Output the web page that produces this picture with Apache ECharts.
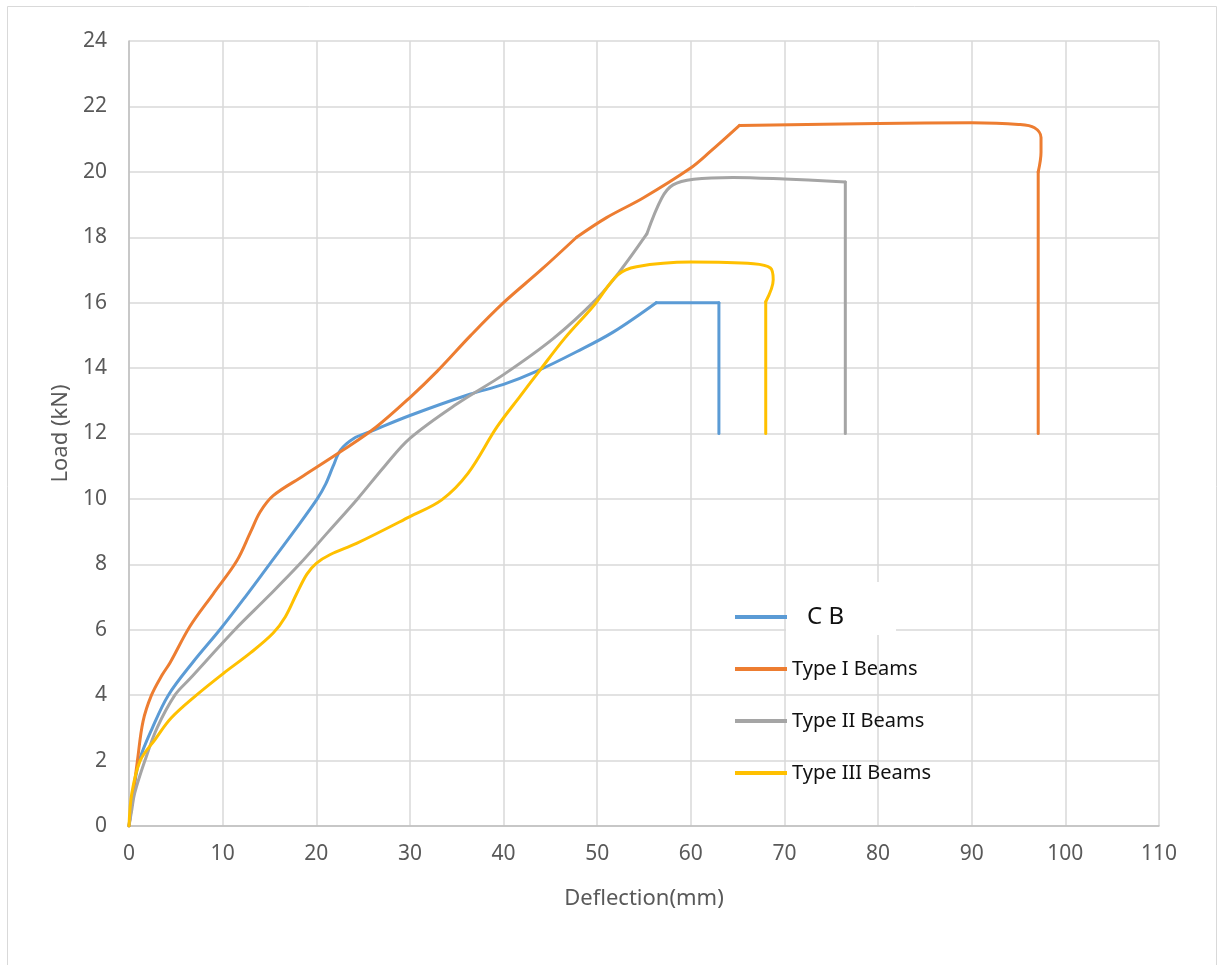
<!DOCTYPE html>
<html>
<head>
<meta charset="utf-8">
<script src="https://cdn.jsdelivr.net/npm/echarts@6/dist/echarts.min.js"></script>
<style>html,body{margin:0;padding:0;background:#fff}#c{width:1219px;height:965px}</style>
</head>
<body>
<div id="c"></div>
<script>
// ---- data (Deflection mm, Load kN) ----
const seriesNames = ['C B', 'Type I Beams', 'Type II Beams', 'Type III Beams'];
const cbData = [[0,0],[0.5,1.1],[1.1,2],[2.5,3],[4.2,4],[6.8,5],[9.7,6],[12.4,7],[15,8],[17.6,9],[20.1,10],[21,10.45],[21.8,11],[22.6,11.5],[24,11.85],[25.7,12.05],[30,12.55],[36.4,13.2],[40,13.5],[43.5,13.9],[47.8,14.5],[51.7,15.1],[56.3,16],[63,16],[63,12]];
const cbCorners = [22, 23];
const type1Data = [[0,0],[0.45,1],[0.9,2],[1.5,3.2],[2.4,4],[3.5,4.6],[4.4,5],[6.5,6.1],[9,7.1],[11.5,8.1],[13,9],[14,9.6],[15.4,10.1],[18.6,10.7],[22.9,11.5],[26.4,12.2],[30,13.1],[32.9,13.9],[36.5,15],[40,16],[44,17],[47.8,18],[51,18.6],[54.9,19.2],[59.9,20.1],[62,20.6],[65.2,21.42],[80,21.48],[90,21.5],[95,21.45],[96.7,21.35],[97.4,21.05],[97.4,20.6],[97.1,20],[97.1,16],[97.1,12]];
const type1Corners = [21, 26, 33];
const type2Data = [[0,0],[0.3,0.5],[0.6,1],[1.7,2],[3,3],[4.9,4],[6.5,4.5],[11.3,6],[14.8,7],[18.2,8],[21.3,9],[24.4,10],[27.3,11],[30,11.85],[35,12.9],[40,13.8],[45.3,14.9],[49.9,16.1],[52.4,16.95],[55.3,18.1],[56.9,19.2],[58.1,19.6],[60.3,19.77],[64.5,19.83],[70,19.78],[76.5,19.69],[76.5,12]];
const type2Corners = [19, 25];
const type3Data = [[0,0],[0.3,1],[1.2,2],[2.8,2.65],[4.5,3.3],[7.2,4],[10.1,4.67],[13,5.3],[15.4,5.9],[16.7,6.4],[17.9,7.1],[19,7.7],[20,8.03],[21.5,8.3],[24.3,8.64],[30,9.46],[33.4,9.97],[36.2,10.78],[39.3,12.2],[41.8,13.15],[43.9,13.94],[46.5,14.9],[49.6,15.9],[52.2,16.85],[54.2,17.1],[60,17.24],[66.7,17.19],[68.5,17.06],[68.8,16.7],[68,16.03],[68,12]];
const type3Corners = [29];
const xTicks = {min: 0, max: 110, interval: 10};
const yTicks = {min: 0, max: 24, interval: 2};

const colors = ['#5B9BD5', '#ED7D31', '#A5A5A5', '#FFC000'];
const allData = [cbData, type1Data, type2Data, type3Data];
const allCorners = [cbCorners, type1Corners, type2Corners, type3Corners];

const FONT = 'Noto Sans';
const series = [];
allData.forEach((d, i) => {
  const cuts = [0].concat(allCorners[i]).concat([d.length - 1]);
  for (let k = 0; k < cuts.length - 1; k++) {
    series.push({
      name: seriesNames[i],
      type: 'line',
      data: d.slice(cuts[k], cuts[k + 1] + 1),
      smooth: 0.35,
      showSymbol: false,
      symbol: 'none',
      color: colors[i],
      lineStyle: {width: 3, color: colors[i], cap: 'round', join: 'round'},
      itemStyle: {color: colors[i]},
      z: 2 + i,
      animation: false
    });
  }
});

const legendCenters = [617, 669, 721, 773];
const legends = seriesNames.map((n, i) => ({
  data: [{name: n, textStyle: i === 0 ? {fontSize: 24, padding: [0, 0, 0, 15]} : {fontSize: 20}}],
  left: 735,
  top: legendCenters[i] - 14,
  padding: 0,
  z: 10,
  selectedMode: false,
  icon: 'path://M0,0 L52,0 L52,4 L0,4 Z',
  itemWidth: 52,
  itemHeight: 4,
  textStyle: {fontFamily: FONT, color: '#111', lineHeight: 28}
}));

const chart = echarts.init(document.getElementById('c'), null, {renderer: 'canvas'});
chart.setOption({
  animation: false,
  backgroundColor: '#fff',
  grid: {left: 129, right: 60, top: 41, bottom: 139, containLabel: false},
  graphic: [
    {type: 'rect', shape: {x: 7.5, y: 6.5, width: 1209, height: 1100}, style: {fill: 'none', stroke: '#d9d9d9', lineWidth: 1}, z: 0, silent: true},
    {type: 'rect', shape: {x: 786, y: 582, width: 110, height: 53}, style: {fill: '#fff'}, z: 3, silent: true}
  ],
  legend: legends,
  xAxis: {
    type: 'value', min: xTicks.min, max: xTicks.max, interval: xTicks.interval,
    name: 'Deflection(mm)', nameLocation: 'middle', nameGap: 62,
    nameTextStyle: {fontFamily: FONT, fontSize: 22, color: '#595959'},
    axisLine: {show: true, lineStyle: {color: '#bfbfbf', width: 1.5}},
    axisTick: {show: false},
    axisLabel: {fontFamily: FONT, fontSize: 21, color: '#595959', margin: 18},
    splitLine: {show: true, lineStyle: {color: '#d9d9d9', width: 1.5}}
  },
  yAxis: {
    type: 'value', min: yTicks.min, max: yTicks.max, interval: yTicks.interval,
    name: 'Load (kN)', nameLocation: 'middle', nameGap: 52,
    nameTextStyle: {fontFamily: FONT, fontSize: 22, color: '#595959'},
    axisLine: {show: true, lineStyle: {color: '#bfbfbf', width: 1.5}},
    axisTick: {show: false},
    axisLabel: {fontFamily: FONT, fontSize: 21, color: '#595959', margin: 22},
    splitLine: {show: true, lineStyle: {color: '#d9d9d9', width: 1.5}}
  },
  series: series
});
</script>
</body>
</html>
